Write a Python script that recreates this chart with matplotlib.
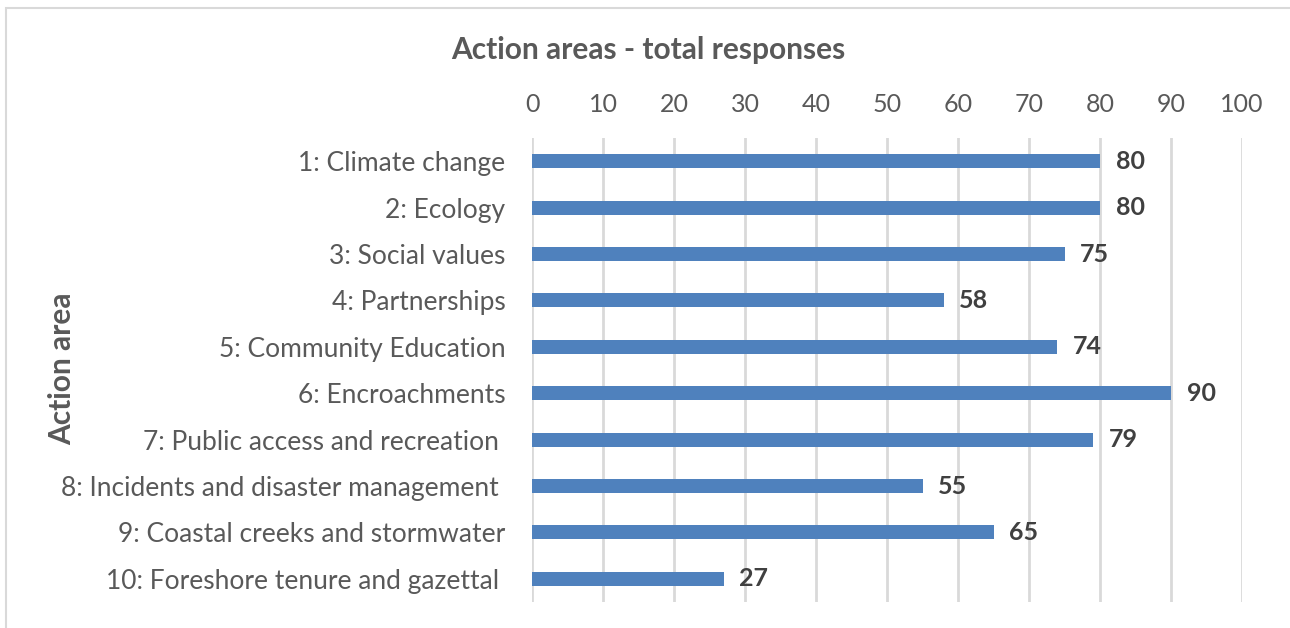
import matplotlib.pyplot as plt
from matplotlib.patches import Rectangle

plt.rcParams['font.family'] = ['Lato', 'DejaVu Sans']

categories = ['1: Climate change', '2: Ecology', '3: Social values', '4: Partnerships',
              '5: Community Education', '6: Encroachments', '7: Public access and recreation ',
              '8: Incidents and disaster management ', '9: Coastal creeks and stormwater',
              '10: Foreshore tenure and gazettal ']
responses = [80, 80, 75, 58, 74, 90, 79, 55, 65, 27]
ticks = [0, 10, 20, 30, 40, 50, 60, 70, 80, 90, 100]

fig = plt.figure(figsize=(12.9, 6.28), dpi=100)
ax = fig.add_axes([532 / 1290, 26 / 628, 710 / 1290, 464 / 628])

y = list(range(len(categories)))
ax.barh(y, responses, height=0.3, color='#4f81bd', zorder=3)
for yi, v in zip(y, responses):
    ax.text(v + 2.2, yi, str(v), va='center', ha='left', fontsize=18,
            fontweight='bold', color='#404040')

ax.set_xlim(0, 100)
ax.set_ylim(len(categories) - 0.5, -0.5)
ax.set_xticks(ticks)
ax.set_yticks(y)
ax.set_yticklabels(categories)
ax.xaxis.tick_top()
ax.tick_params(axis='x', length=0, labelsize=18, labelcolor='#595959', pad=16)
ax.tick_params(axis='y', length=0, labelsize=19, labelcolor='#595959', pad=19)
ax.grid(axis='x', color='#d9d9d9', linewidth=2, zorder=0)
for s in ax.spines.values():
    s.set_visible(False)

fig.text(648 / 1290, 1 - 50 / 628, 'Action areas - total responses', ha='center',
         va='center', fontsize=21.5, fontweight='bold', color='#595959')
fig.text(62 / 1290, 1 - 369 / 628, 'Action area', ha='center', va='center',
         rotation=90, fontsize=21.5, fontweight='bold', color='#595959')

fig.patches.append(Rectangle((6 / 1290, -0.05), 1.1, 1 - 8 / 628 + 0.05,
                             transform=fig.transFigure, fill=False,
                             edgecolor='#d9d9d9', linewidth=1.5))

fig.savefig('out.png', dpi=100)
